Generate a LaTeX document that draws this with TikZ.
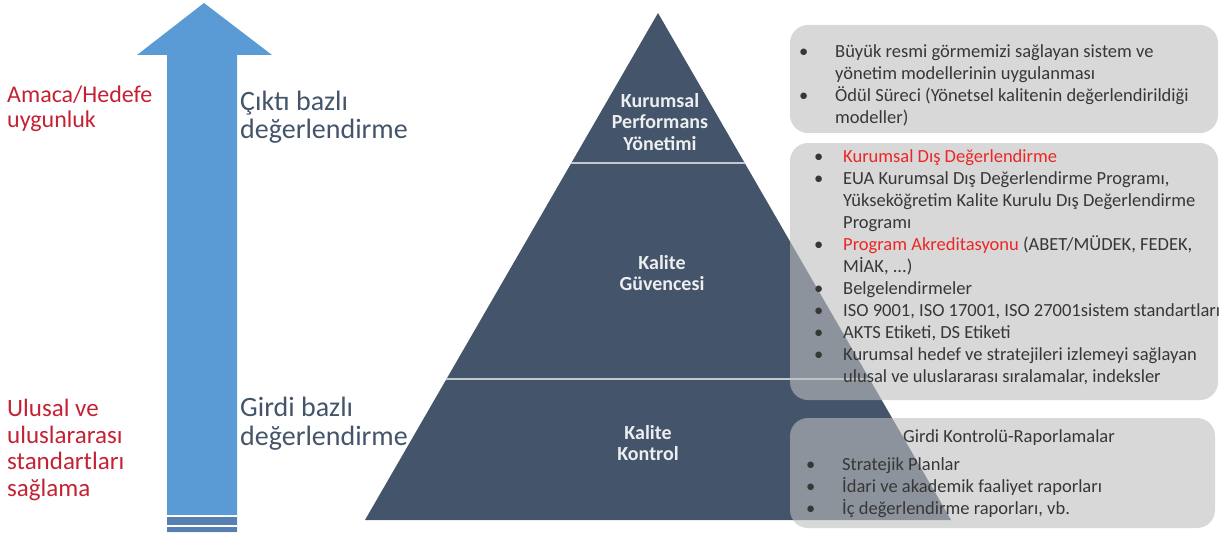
\documentclass[tikz,border=0pt]{standalone}
\usepackage{fontspec}
\setmainfont{Carlito}
\usepackage{array}
\usetikzlibrary{calc}

\definecolor{pyrblue}{RGB}{68,84,106}
\definecolor{arrowblue}{RGB}{91,155,213}
\definecolor{arrowdark}{RGB}{86,128,178}
\definecolor{labelred}{RGB}{196,34,52}
\definecolor{itemred}{RGB}{236,38,38}
\definecolor{boxgray}{RGB}{190,190,190}
\definecolor{itemtext}{RGB}{55,55,55}
\definecolor{divider}{RGB}{196,200,206}

\tikzset{
    infobox/.style={fill=boxgray, fill opacity=0.6, rounded corners=18pt},
    levellabel/.style={text=white!90!pyrblue, font=\fontsize{20}{21.5}\selectfont\bfseries, align=center, inner sep=0pt},
    sidelabel/.style={anchor=west, align=left, inner sep=0pt},
    itemlist/.style={anchor=west, inner sep=0pt, text=itemtext, font=\fontsize{18.5}{22}\selectfont},
    divline/.style={divider, line width=2pt}
}

\begin{document}
\begin{tikzpicture}[x=1pt,y=-1pt]
        \useasboundingbox (0,0) rectangle (1220,535);
        \fill[arrowblue] (167,532) -- (167,55) -- (137,55) -- (204,3) -- (272,55) -- (237,55) -- (237,532) -- cycle;
        \fill[arrowdark] (167,515) rectangle (237,532);
        \foreach \y in {516,526} {
                \draw[white, line width=2.5pt] (167,\y) -- (237,\y);
            }
        \coordinate (apex) at (658,13);
        \coordinate (baseL) at (365,520);
        \coordinate (baseR) at (951,520);
        \fill[pyrblue] (apex) -- (baseR) -- (baseL) -- cycle;
        \foreach \t in {0.296,0.722} {
                \draw[divline] ($(apex)!\t!(baseL)$) -- ($(apex)!\t!(baseR)$);
            }
        \node[levellabel] (topname) at (660,122) {Kurumsal\\Performans\\Yönetimi};
        \node[levellabel] (midname) at (662,273) {Kalite\\Güvencesi};
        \node[levellabel] (lowname) at (648,443) {Kalite\\Kontrol};
        \node[sidelabel, text=labelred, font=\fontsize{24}{25}\selectfont] (fitness) at (7,109) {Amaca/Hedefe\\uygunluk};
        \node[sidelabel, text=labelred, font=\fontsize{25}{26.5}\selectfont] (standards) at (7,450) {Ulusal ve\\uluslararası\\standartları\\sağlama};
        \node[sidelabel, text=pyrblue, font=\fontsize{28}{28}\selectfont] (output) at (240,117) {Çıktı bazlı\\değerlendirme};
        \node[sidelabel, text=pyrblue, font=\fontsize{28}{29}\selectfont] (input) at (240,424) {Girdi bazlı\\değerlendirme};
        \fill[infobox] (790,25) rectangle (1218,133);
        \fill[infobox] (790,143) rectangle (1218,400);
        \fill[infobox] (790,418) rectangle (1215,528);
        \node[itemlist] (toplist) at (799,86) {\begin{tabular}{@{}p{36pt}@{}l@{}}
                \textbullet & Büyük resmi görmemizi sağlayan sistem ve\\
                            & yönetim modellerinin uygulanması\\
                \textbullet & Ödül Süreci (Yönetsel kalitenin değerlendirildiği\\
                            & modeller)
            \end{tabular}};
        \node[itemlist] (midlist) at (814,268) {\begin{tabular}{@{}p{29pt}@{}l@{}}
                \textbullet & \textcolor{itemred}{Kurumsal Dış Değerlendirme}\\
                \textbullet & EUA Kurumsal Dış Değerlendirme Programı,\\
                            & Yükseköğretim Kalite Kurulu Dış Değerlendirme\\
                            & Programı\\
                \textbullet & \textcolor{itemred}{Program Akreditasyonu} (ABET/MÜDEK, FEDEK,\\
                            & MİAK, ...)\\
                \textbullet & Belgelendirmeler\\
                \textbullet & ISO 9001, ISO 17001, ISO 27001sistem standartları\\
                \textbullet & AKTS Etiketi, DS Etiketi\\
                \textbullet & Kurumsal hedef ve stratejileri izlemeyi sağlayan\\
                            & ulusal ve uluslararası sıralamalar, indeksler
            \end{tabular}};
        \node[itemlist, anchor=center] (lowhead) at (1009,438) {Girdi Kontrolü-Raporlamalar};
        \node[itemlist] (lowlist) at (806,488.5) {\begin{tabular}{@{}p{36pt}@{}l@{}}
                \textbullet & Stratejik Planlar\\
                \textbullet & İdari ve akademik faaliyet raporları\\
                \textbullet & İç değerlendirme raporları, vb.
            \end{tabular}};
    \end{tikzpicture}
\end{document}
